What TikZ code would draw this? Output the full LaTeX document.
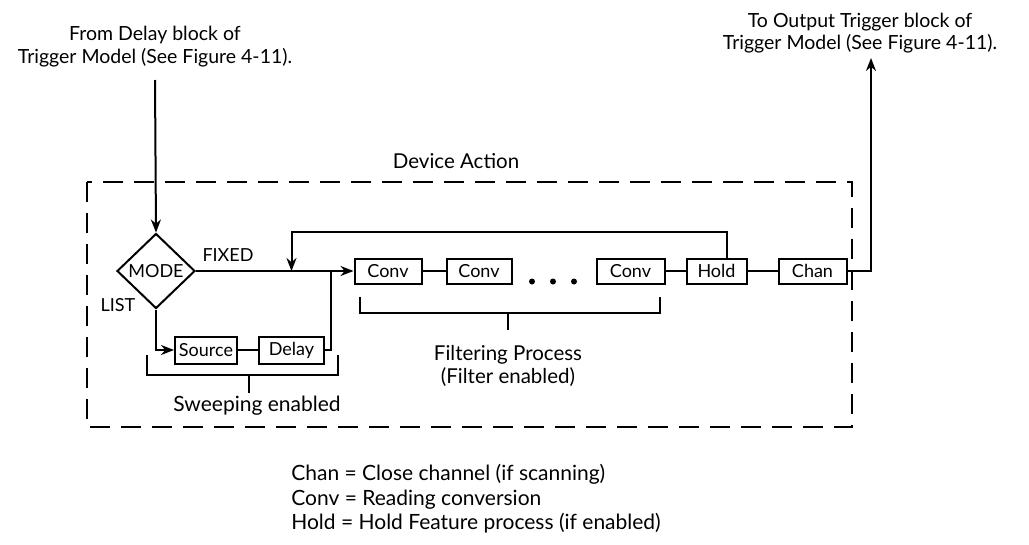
\documentclass[tikz,border=0pt]{standalone}
\usepackage{fontspec}
\setmainfont{Lato}
\usetikzlibrary{arrows.meta,calc,positioning,shapes.geometric}

\begin{document}
\begin{tikzpicture}[x=1pt,y=-1pt,line width=2pt,
  font=\fontsize{21}{23.5}\selectfont,
  blk/.style={draw,minimum width=#1,minimum height=25pt,inner sep=0pt,
              font=\fontsize{18}{20}\selectfont},
  lbl/.style={font=\fontsize{18}{20}\selectfont},
  arr/.style={-{Stealth[length=13pt,width=10pt]}},
  dashbox/.style={dash pattern=on 20pt off 11pt}]
  \useasboundingbox (0,0) rectangle (1029,544);
  % texts outside the box
  \node[align=center,font=\fontsize{19.5}{23}\selectfont] (fromtxt) at (155,47) {From Delay block of\\Trigger Model (See Figure 4-11).};
  \node[align=center,font=\fontsize{19.5}{22.5}\selectfont] (totxt) at (860,33) {To Output Trigger block of\\Trigger Model (See Figure 4-11).};
  \node[font=\fontsize{20.5}{23}\selectfont] (devact) at (456,161) {Device Action};
  \draw[dashbox] (87,182) rectangle (852,427);
  % mode selection
  \node[draw,diamond,minimum width=78pt,minimum height=75pt,inner sep=0pt] (mode) at (156,271) {};
  \node[lbl] (modetxt) at (mode) {MODE};
  \node[lbl] (fixed) at (228,255) {FIXED};
  \node[lbl] (list) at (118,305) {LIST};
  % blocks
  \node[blk=62,minimum height=27pt] (source) at (206,350) {Source};
  \node[blk=65,minimum height=27pt,right=20pt of source] (delay) {Delay};
  \node[blk=67] (conv1) at (388,271) {Conv};
  \node[blk=65,right=23pt of conv1] (conv2) {Conv};
  \node[blk=68,right=83pt of conv2] (conv3) {Conv};
  \node[blk=60,right=20pt of conv3] (hold) {Hold};
  \node[blk=68,right=30pt of hold] (chan) {Chan};
  \foreach \x in {532,553,574}
    \fill (\x,281.5) circle (3pt);
  % brackets
  \draw (147,355) |- (338,375) -- (338,355);
  \draw (249,375) -- (249,393);
  \node (sweep) at (257,406) {Sweeping enabled};
  \draw (360,297) |- (660,313) -- (660,297);
  \draw (508,313) -- (508,330);
  \node[align=center,font=\fontsize{20.5}{23}\selectfont] (filt) at (508,366) {Filtering Process\\(Filter enabled)};
  % connectors
  \coordinate (fromend) at (155,80);
  \coordinate (merge) at (330.5,271);
  \coordinate (fbtop) at (291.5,232);
  \coordinate (fbdrop) at (291.5,271);
  \coordinate (outend) at (871,58);
  \draw[arr] (fromend) -- (mode.north);
  \draw[arr] (mode.east) -- (conv1.west);
  \draw[arr] (mode.south) |- (source.west);
  \draw (delay.east) -| (merge);
  \draw[arr] ([xshift=10pt]hold.north) |- (fbtop) -- (fbdrop);
  \draw[arr] (chan.east) -| (outend);
  \foreach \a/\b in {source/delay,conv1/conv2,conv3/hold,hold/chan}
    \draw (\a) -- (\b);
  % legend
  \node[align=left,anchor=west,font=\fontsize{21}{24.5}\selectfont] (legend) at (287,499)
    {Chan = Close channel (if scanning)\\Conv = Reading conversion\\Hold = Hold Feature process (if enabled)};
\end{tikzpicture}
\end{document}
